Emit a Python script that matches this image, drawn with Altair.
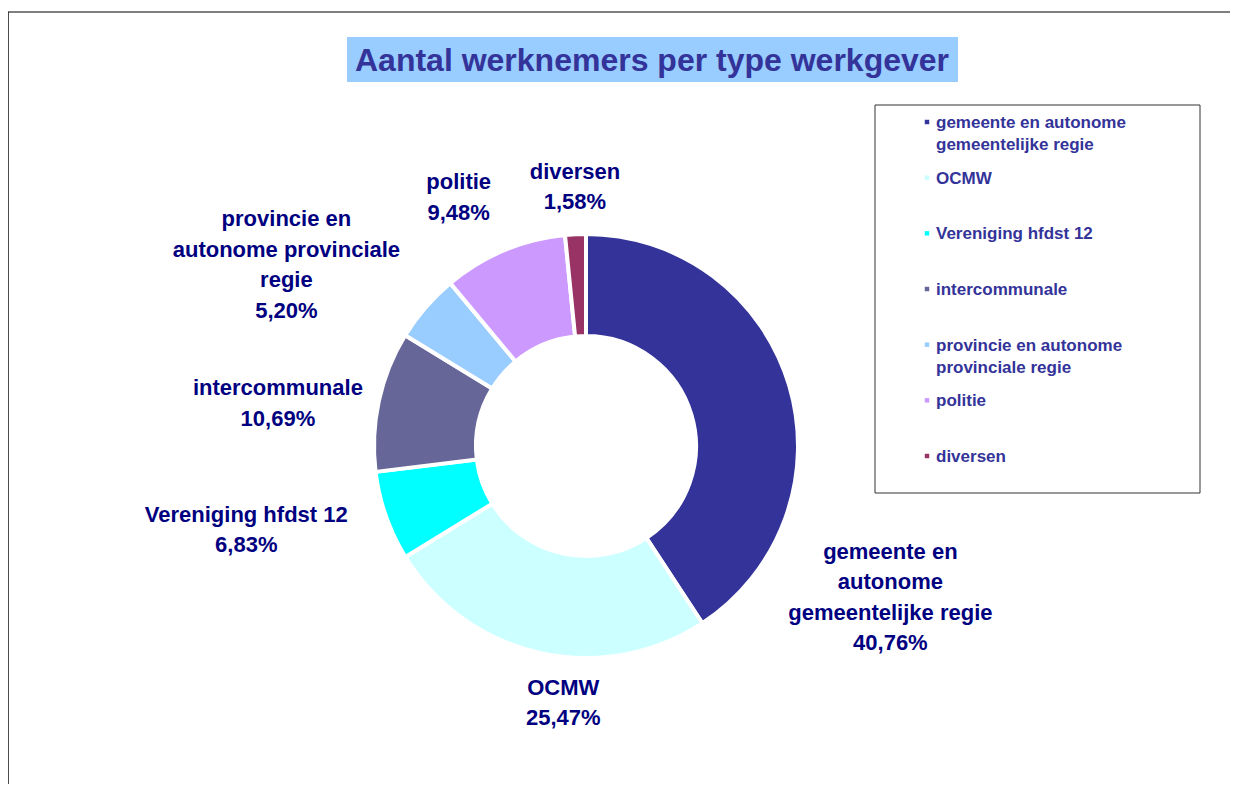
import altair as alt
import pandas as pd
import math

# ---- data ----
categories = [
    "gemeente en autonome gemeentelijke regie",
    "OCMW",
    "Vereniging hfdst 12",
    "intercommunale",
    "provincie en autonome provinciale regie",
    "politie",
    "diversen",
]
shares = [40.76, 25.47, 6.83, 10.69, 5.20, 9.48, 1.58]
share_labels = ["40,76%", "25,47%", "6,83%", "10,69%", "5,20%", "9,48%", "1,58%"]
label_names = [
    "gemeente en\nautonome\ngemeentelijke regie",
    "OCMW",
    "Vereniging hfdst 12",
    "intercommunale",
    "provincie en\nautonome provinciale\nregie",
    "politie",
    "diversen",
]
legend_names = [
    "gemeente en autonome\ngemeentelijke regie",
    "OCMW",
    "Vereniging hfdst 12",
    "intercommunale",
    "provincie en autonome\nprovinciale regie",
    "politie",
    "diversen",
]
colors = ["#333399", "#CCFFFF", "#00FFFF", "#666699", "#99CCFF", "#CC99FF", "#993366"]
title_text = "Aantal werknemers per type werkgever"

# ---- layout (label placement, as Excel placed them) ----
label_angle_nudge = [43.1, -7.5, 5.4, -4.4, -9.7, -4.4, 0.4]   # degrees added to slice mid-angle
label_distance = [340, 258, 350, 311, 350, 279, 259]            # px from donut centre
LINE_H = 30.5

W, H = 1222, 772
CX, CY = 578, 434
R_OUT, R_IN = 212, 110

total = sum(shares)
cum = 0.0
lx, ly = [], []
for v, nud, dist, name in zip(shares, label_angle_nudge, label_distance, label_names):
    mid = (cum + v / 2) / total * 360.0 + nud
    cum += v
    a = math.radians(mid)
    n_lines = name.count("\n") + 2
    lx.append(CX + dist * math.sin(a))
    # y of first line so that the whole block is centred on the anchor
    ly.append(CY - dist * math.cos(a) - (n_lines - 1) / 2 * LINE_H)

df = pd.DataFrame({
    "cat": categories,
    "value": shares,
    "idx": list(range(len(categories))),
    "label": [n + "\n" + s for n, s in zip(label_names, share_labels)],
    "legend": legend_names,
    "lx": lx,
    "ly": ly,
})

base = alt.Chart(df)
one = pd.DataFrame({"a": [0]})

frame_top = alt.Chart(one).mark_rule(color="#555555", strokeWidth=1.5).encode(
    x=alt.value(0), x2=alt.value(W), y=alt.value(0)
)
frame_left = alt.Chart(one).mark_rule(color="#111111", strokeWidth=1.5).encode(
    x=alt.value(0), y=alt.value(0), y2=alt.value(H)
)

title_bg = alt.Chart(one).mark_rect(fill="#99CCFF").encode(
    x=alt.value(339), x2=alt.value(950), y=alt.value(25), y2=alt.value(70)
)
title = alt.Chart(pd.DataFrame({"t": [title_text]})).mark_text(
    font="Liberation Sans", fontSize=32, fontWeight="bold", color="#333399",
    align="center", baseline="middle"
).encode(text="t:N", x=alt.value(644), y=alt.value(49))

arcs = base.mark_arc(radius=R_OUT, radius2=R_IN, stroke="white", strokeWidth=4).encode(
    theta=alt.Theta("value:Q", stack=True),
    order=alt.Order("idx:Q"),
    color=alt.Color("cat:N", scale=alt.Scale(domain=categories, range=colors), legend=None),
    x=alt.value(CX),
    y=alt.value(CY),
)

labels = base.mark_text(
    font="Liberation Sans", fontSize=22, fontWeight="bold", color="#000080",
    align="center", baseline="middle", lineBreak="\n", lineHeight=LINE_H
).encode(
    text="label:N",
    x=alt.X("lx:Q", scale=None, axis=None),
    y=alt.Y("ly:Q", scale=None, axis=None),
)

legend_box = alt.Chart(one).mark_rect(
    fill="white", stroke="#333333", strokeWidth=1
).encode(x=alt.value(867), x2=alt.value(1192), y=alt.value(93), y2=alt.value(481))

leg_y = alt.Y("cat:N", scale=alt.Scale(type="point", domain=categories, range=[110, 444], padding=0), axis=None)
legend_sym = base.mark_square(size=20, opacity=1).encode(
    x=alt.value(919),
    y=leg_y,
    color=alt.Color("cat:N", scale=alt.Scale(domain=categories, range=colors), legend=None),
)
legend_txt = base.mark_text(
    font="Liberation Sans", fontSize=17, fontWeight="bold", color="#333399",
    align="left", baseline="alphabetic", dy=6, lineBreak="\n", lineHeight=22
).encode(text="legend:N", x=alt.value(928), y=leg_y)

chart = alt.layer(
    frame_top, frame_left, title_bg, title, arcs, labels, legend_box, legend_sym, legend_txt
).resolve_scale(
    x="independent", y="independent", color="independent"
).properties(
    width=W, height=H,
    autosize=alt.AutoSizeParams(type="none"),
    padding={"left": 0, "top": 4, "right": 0, "bottom": 0},
).configure_view(stroke=None)

chart.save("out.html", embed_options={"renderer": "svg", "actions": False})
